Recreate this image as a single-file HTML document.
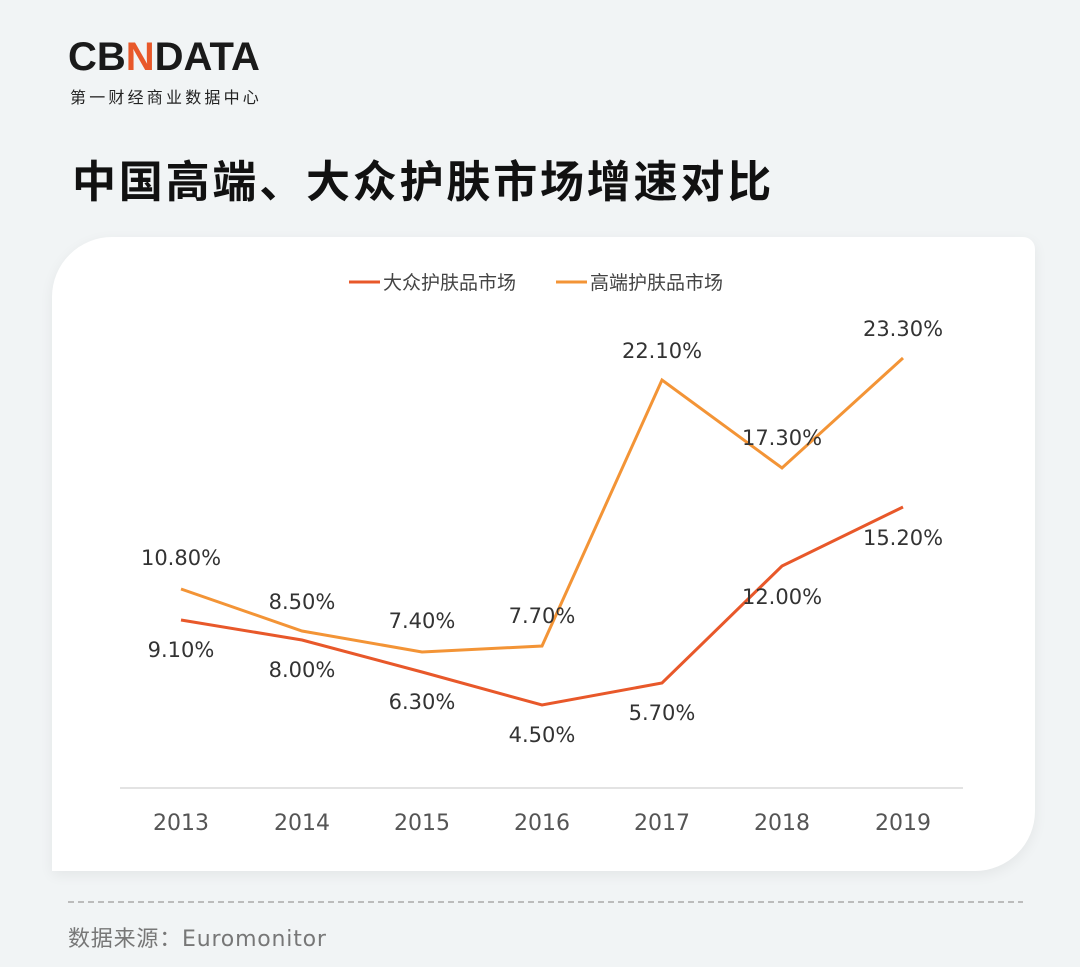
<!DOCTYPE html>
<html><head><meta charset="utf-8"><style>
html,body{margin:0;padding:0}
body{width:1080px;height:967px;background:#f1f4f5;position:relative;overflow:hidden;font-family:"Liberation Sans","Noto Sans CJK SC",sans-serif}
.card{position:absolute;left:52px;top:237px;width:983px;height:634px;background:#fff;border-radius:60px 12px 60px 0;box-shadow:0 4px 14px rgba(0,0,0,0.06)}
</style></head><body>
<div style="position:absolute;left:68px;top:35px;font-size:40px;font-weight:bold;letter-spacing:0px;color:#1a1a1a;font-family:'Liberation Sans',sans-serif">CB<span style="color:#e8582a">N</span>DATA</div>
<div style="position:absolute;left:70px;top:84px;font-size:16px;color:#222;letter-spacing:3.2px">第一财经商业数据中心</div>
<div style="position:absolute;left:72px;top:146px;font-size:44px;font-weight:bold;color:#111;letter-spacing:2.8px">中国高端、大众护肤市场增速对比</div>
<div class="card"></div>
<svg style="position:absolute;left:0;top:0" width="1080" height="967" font-family="'DejaVu Sans','Noto Sans CJK SC',sans-serif">
<line x1="349" y1="282" x2="380" y2="282" stroke="#e8582a" stroke-width="3"/>
<text x="383" y="289" font-size="19" fill="#444" font-family="'Noto Sans CJK SC',sans-serif">大众护肤品市场</text>
<line x1="556" y1="282" x2="587" y2="282" stroke="#f39436" stroke-width="3"/>
<text x="590" y="289" font-size="19" fill="#444" font-family="'Noto Sans CJK SC',sans-serif">高端护肤品市场</text>
<line x1="120" y1="788" x2="963" y2="788" stroke="#e3e3e3" stroke-width="2"/>
<g font-size="22" fill="#555" text-anchor="middle">
<text x="181" y="830">2013</text><text x="302" y="830">2014</text><text x="422" y="830">2015</text><text x="542" y="830">2016</text><text x="662" y="830">2017</text><text x="782" y="830">2018</text><text x="903" y="830">2019</text>
</g>
<polyline fill="none" stroke="#f39436" stroke-width="3" points="181,589 302,631 422,652 542,646 662,380 782,468 903,358"/>
<polyline fill="none" stroke="#e8582a" stroke-width="3" points="181,620 302,640 422,672 542,705 662,683 782,566 903,507"/>
<g font-size="21" fill="#333" text-anchor="middle">
<text x="181" y="565">10.80%</text><text x="302" y="609">8.50%</text><text x="422" y="628">7.40%</text><text x="542" y="623">7.70%</text><text x="662" y="358">22.10%</text><text x="782" y="445">17.30%</text><text x="903" y="336">23.30%</text>
<text x="181" y="657">9.10%</text><text x="302" y="677">8.00%</text><text x="422" y="709">6.30%</text><text x="542" y="742">4.50%</text><text x="662" y="720">5.70%</text><text x="782" y="604">12.00%</text><text x="903" y="545">15.20%</text>
</g>
<line x1="68" y1="902" x2="1023" y2="902" stroke="#aaa" stroke-width="1.5" stroke-dasharray="6,4"/>
<text x="68" y="946" font-size="22" fill="#777" letter-spacing="0.8">数据来源：Euromonitor</text>
</svg>
</body></html>
